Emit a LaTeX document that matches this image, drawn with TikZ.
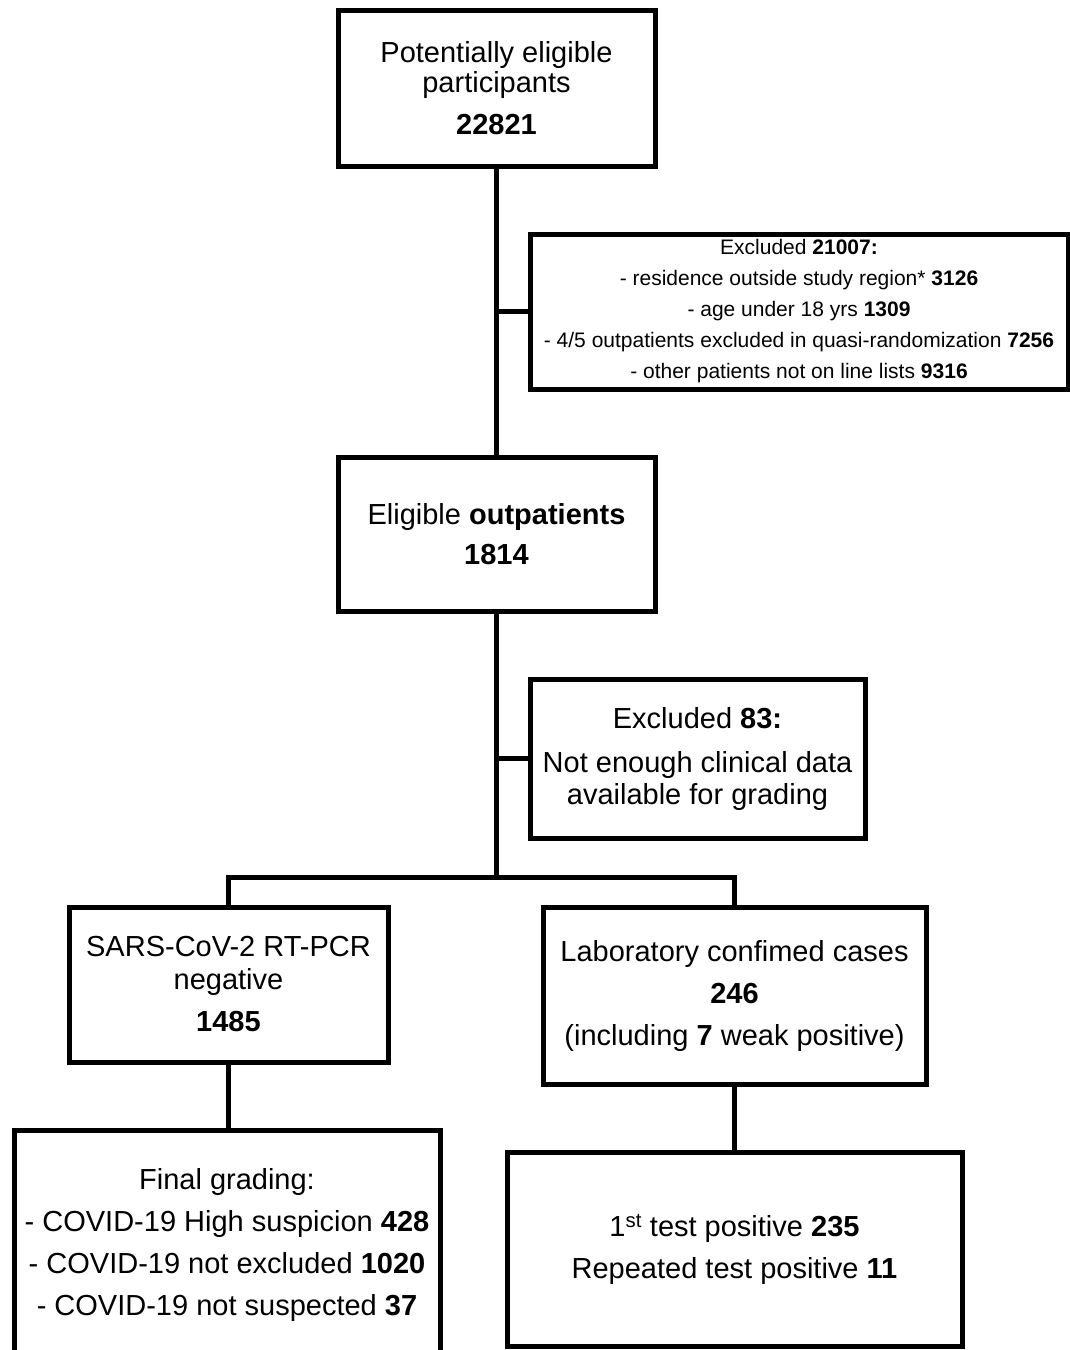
\documentclass[tikz,border=0pt]{standalone}
\usepackage{fontspec}
\setmainfont{Liberation Sans}
\begin{document}
\begin{tikzpicture}[x=1pt,y=-1pt,
  box/.style={draw=black, line width=5pt, fill=white, inner sep=0pt, align=center,
    font=\fontsize{29}{42}\selectfont},
  smallbox/.style={box, font=\fontsize{21}{31}\selectfont},
  conn/.style={draw=black, line width=5pt, line join=miter}]
\useasboundingbox (0,0) rectangle (1070,1350);

\node[box, minimum width=317pt, minimum height=156pt] (top) at (496.5,88)
  {Potentially eligible\\[-12pt]participants\\\textbf{22821}};
\node[smallbox, minimum width=538pt, minimum height=155pt] (excl1) at (799,311.5)
  {Excluded \textbf{21007:}\\
   - residence outside study region* \textbf{3126}\\
   - age under 18 yrs \textbf{1309}\\
   - 4/5 outpatients excluded in quasi-randomization \textbf{7256}\\
   - other patients not on line lists \textbf{9316}};
\node[box, minimum width=317pt, minimum height=154pt] (elig) at (496.5,534)
  {Eligible \textbf{outpatients}\\[-2pt]\textbf{1814}};
\node[box, minimum width=335pt, minimum height=159pt] (excl2) at (697.5,758.5)
  {Excluded \textbf{83:}\\[2pt]Not enough clinical data\\[-10pt]available for grading};
\node[box, minimum width=319pt, minimum height=155pt] (sars) at (228.5,984.5)
  {SARS-CoV-2 RT-PCR\\[-9pt]negative\\\textbf{1485}};
\node[box, minimum width=383pt, minimum height=177pt] (lab) at (734.5,995.5)
  {Laboratory confimed cases\\\textbf{246}\\(including \textbf{7} weak positive)};
\node[box, minimum width=426pt, minimum height=230pt] (final) at (227,1245)
  {Final grading:\\- COVID-19 High suspicion \textbf{428}\\- COVID-19 not excluded \textbf{1020}\\- COVID-19 not suspected \textbf{37}};
\node[box, minimum width=455pt, minimum height=194pt] (first) at (734.5,1249)
  {1\textsuperscript{st} test positive \textbf{235}\\Repeated test positive \textbf{11}};

\coordinate (split) at (496.5,877);

\draw[conn] (top.south) -- (elig.north);
\draw[conn] (excl1.west) -- (excl1.west -| top.south);
\draw[conn] (elig.south) -- (split);
\draw[conn] (excl2.west) -- (excl2.west -| elig.south);
\draw[conn] (sars.north) |- (split) -| (lab.north);
\draw[conn] (sars.south) -- (sars.south |- final.north);
\draw[conn] (lab.south) -- (first.north);
\end{tikzpicture}
\end{document}
